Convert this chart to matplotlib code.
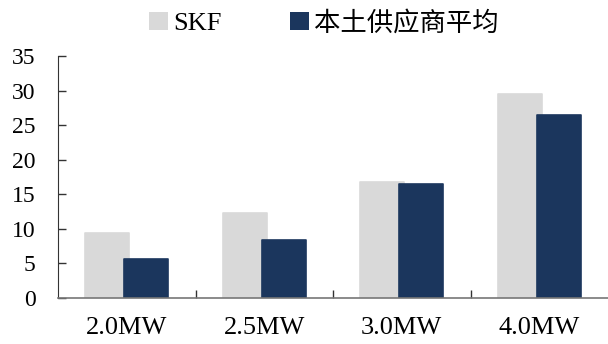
import matplotlib
matplotlib.use("Agg")
import matplotlib.pyplot as plt
from matplotlib.patches import Patch
import numpy as np

plt.rcParams['font.family'] = ['Liberation Serif', 'Noto Sans CJK SC']

categories = ['2.0MW', '2.5MW', '3.0MW', '4.0MW']
skf = [9.4, 12.3, 16.8, 29.5]
native = [5.6, 8.4, 16.5, 26.4]
series_names = ['SKF', '本土供应商平均']
colors = ['#d9d9d9', '#1b365d']
yticks = [0, 5, 10, 15, 20, 25, 30, 35]

fig = plt.figure(figsize=(6.08, 3.44), dpi=100)
ax = fig.add_axes([0.0954, 0.1337, 0.9046, 0.7035])

x = np.arange(len(categories))
w = 0.32
off = 0.143
ax.bar(x - off, skf, width=w, color=colors[0], edgecolor=colors[0],
       linewidth=1.2, joinstyle='round', zorder=2)
ax.bar(x + off, native, width=w, color=colors[1], edgecolor=colors[1],
       linewidth=1.2, joinstyle='round', zorder=3)

ax.set_xlim(-0.5, len(categories) - 0.5)
ax.set_ylim(0, 35)
ax.set_yticks(yticks)
ax.set_yticklabels([str(v) for v in yticks], fontsize=17)
ax.set_xticks(x)
ax.set_xticklabels(categories, fontsize=19)
ax.tick_params(axis='x', length=0, pad=14)
ax.set_xticks(x[:-1] + 0.5, minor=True)
ax.tick_params(axis='x', which='minor', direction='in', length=6, width=1, color='#333333')
ax.tick_params(axis='y', direction='in', length=6, width=1, color='#333333', pad=16, labelcolor='black')

for s in ['top', 'right']:
    ax.spines[s].set_visible(False)
ax.spines['left'].set_color('#333333')
ax.spines['bottom'].set_color('#777777')
ax.spines['bottom'].set_linewidth(1.2)
ax.spines['bottom'].set_zorder(4)

handles = [Patch(facecolor=colors[0], label=series_names[0]),
           Patch(facecolor=colors[1], label=series_names[1])]
fig.legend(handles=handles, loc='center', bbox_to_anchor=(324 / 608, 1 - 23 / 344), ncol=2,
           frameon=False, fontsize=19, handlelength=0.7, handleheight=0.7,
           handletextpad=0.2, columnspacing=2.6, borderpad=0)

fig.savefig('out.png', dpi=100)
